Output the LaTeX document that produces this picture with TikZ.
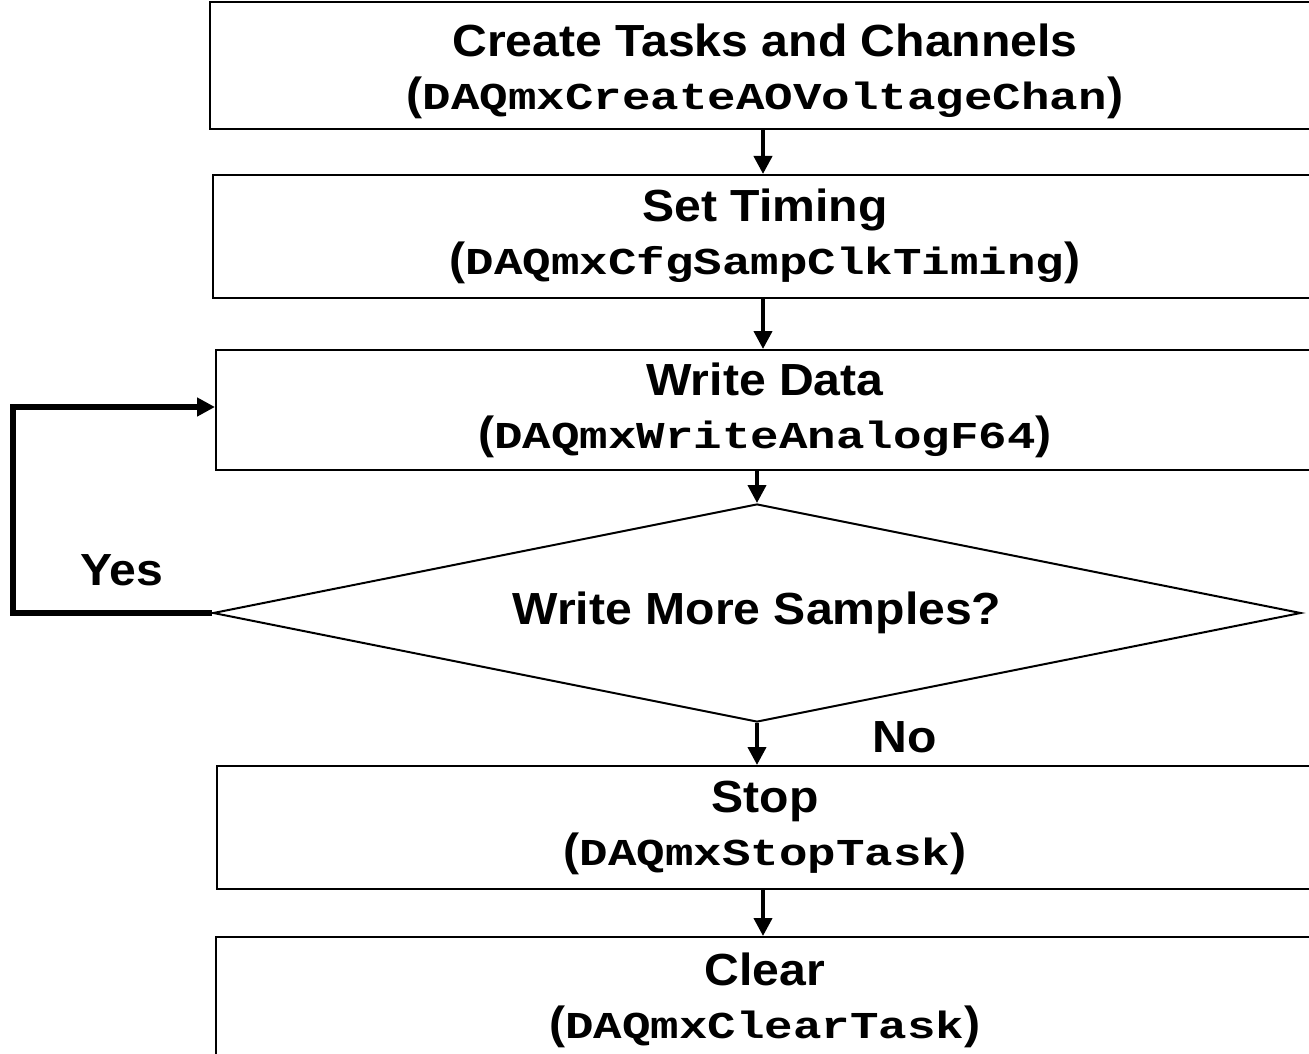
\documentclass[tikz,border=0pt]{standalone}
\usepackage{fontspec}
\setmainfont{Liberation Sans}[FakeStretch=1.07]
\newfontfamily\monof{Liberation Mono}[FakeStretch=1.25]
\usetikzlibrary{shapes.geometric,arrows.meta}
\newcommand{\mf}{\fontsize{38}{50}\selectfont\monof}
\begin{document}
\begin{tikzpicture}[x=1pt,y=-1pt,
  stepbox/.style={draw,line width=2pt,rectangle,inner sep=0pt,align=center,font=\fontsize{45}{53}\selectfont\bfseries},
  boxtext/.style={inner sep=0pt,align=center,font=\fontsize{45}{53}\selectfont\bfseries},
  decide/.style={draw,line width=2pt,diamond,shape aspect=5,inner sep=0pt,minimum width=1088pt,minimum height=218pt,font=\fontsize{45}{53}\selectfont\bfseries},
  flow/.style={line width=4pt,-{Triangle[length=18pt,width=18pt]}},
  loop/.style={line width=5.5pt,-{Triangle[length=18pt,width=18pt]}},
  lbl/.style={font=\fontsize{45}{53}\selectfont\bfseries}]
\clip (0,0) rectangle (1309,1054);
\node[stepbox,minimum width=1110pt,minimum height=127pt] (b1) at (765,65.5) {};
\node[boxtext] (t1) at (765,71)
  {Create Tasks and Channels\\({\mf DAQmxCreateAOVoltageChan})};
\node[stepbox,minimum width=1104pt,minimum height=123pt] (b2) at (765,236.5)
  {Set Timing\\({\mf DAQmxCfgSampClkTiming})};
\node[stepbox,minimum width=1098pt,minimum height=120pt] (b3) at (765,410)
  {Write Data\\({\mf DAQmxWriteAnalogF64})};
\node[decide] (d) at (757,613) {Write More Samples?};
\node[stepbox,minimum width=1096pt,minimum height=123pt] (b4) at (765,827.5)
  {Stop\\({\mf DAQmxStopTask})};
\node[stepbox,minimum width=1098pt,minimum height=126pt] (b5) at (765,1000)
  {Clear\\({\mf DAQmxClearTask})};
\coordinate (c1) at (763,0);
\draw[flow] (b1.south -| c1) -- (b2.north -| c1);
\draw[flow] (b2.south -| c1) -- (b3.north -| c1);
\draw[flow] (b3.south -| d.north) -- (d.north);
\draw[flow] (d.south) -- (b4.north -| d.south);
\draw[flow] (b4.south -| c1) -- (b5.north -| c1);
\coordinate (lp) at (13,407);
\draw[loop] (d.west) -| (lp) -- (b3.west |- lp);
\node[lbl] (yes) at (122,570) {Yes};
\node[lbl] (no) at (905,737) {No};
\end{tikzpicture}
\end{document}
